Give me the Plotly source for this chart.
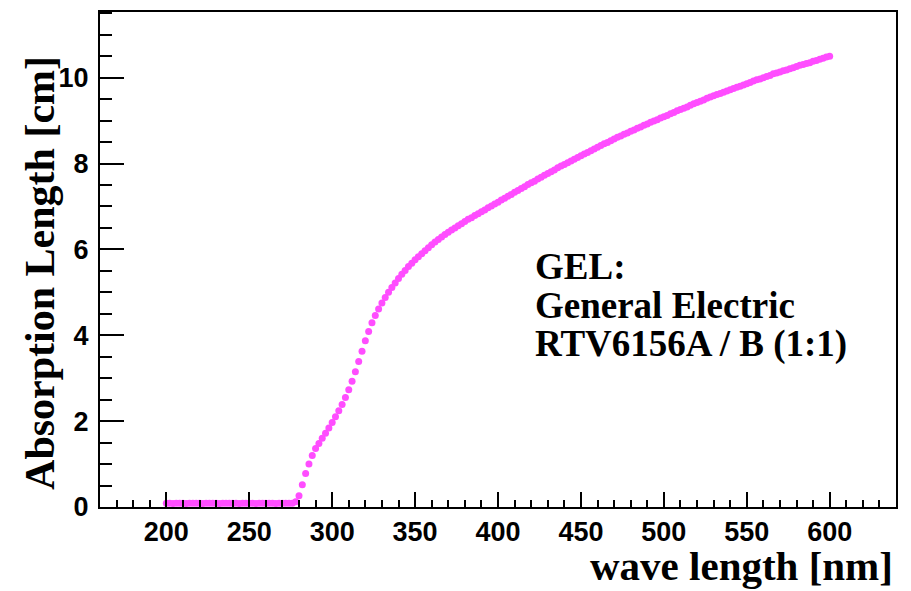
import plotly.graph_objects as go

# wavelength grid [nm]
wavelength = list(range(200, 601, 2))

# absorption length [cm]
flat_part = [0.09, 0.09, 0.08, 0.09, 0.09, 0.09, 0.08, 0.09, 0.09, 0.09,
             0.09, 0.08, 0.09, 0.09, 0.09, 0.09, 0.08, 0.09, 0.09, 0.09,
             0.09, 0.09, 0.08, 0.09, 0.09, 0.09, 0.09, 0.08, 0.09, 0.09,
             0.09, 0.09, 0.09, 0.08, 0.09, 0.09, 0.09, 0.09, 0.09]  # 200..276
rise_part = [0.12, 0.26, 0.52, 0.78, 1.00, 1.20, 1.36, 1.48, 1.60, 1.72,   # 278..296
             1.84, 1.97, 2.10, 2.24, 2.39, 2.55, 2.73, 2.93, 3.15, 3.39,   # 298..316
             3.63, 3.87, 4.09, 4.29, 4.46, 4.61, 4.75, 4.88, 5.00, 5.11,   # 318..336
             5.22, 5.32, 5.42, 5.51, 5.60, 5.68, 5.76, 5.83, 5.90, 5.97,   # 338..356
             6.04, 6.11, 6.17, 6.23, 6.29, 6.35, 6.40, 6.45, 6.50, 6.55,   # 358..376
             6.60, 6.65, 6.70, 6.74, 6.79, 6.83, 6.88, 6.92, 6.97, 7.01,   # 378..396
             7.06, 7.10, 7.15, 7.19, 7.24, 7.28, 7.33, 7.37, 7.42, 7.46,   # 398..416
             7.51, 7.55, 7.59, 7.64, 7.68, 7.73, 7.77, 7.81, 7.85, 7.90,   # 418..436
             7.94, 7.98, 8.02, 8.06, 8.10, 8.14, 8.18, 8.22, 8.26, 8.30,   # 438..456
             8.34, 8.38, 8.42, 8.46, 8.49, 8.53, 8.57, 8.61, 8.64, 8.68,   # 458..476
             8.71, 8.75, 8.78, 8.82, 8.85, 8.89, 8.92, 8.96, 8.99, 9.02,   # 478..496
             9.06, 9.09, 9.12, 9.16, 9.19, 9.23, 9.26, 9.29, 9.32, 9.36,   # 498..516
             9.39, 9.42, 9.45, 9.48, 9.52, 9.55, 9.58, 9.61, 9.63, 9.66,   # 518..536
             9.69, 9.72, 9.75, 9.78, 9.80, 9.83, 9.86, 9.89, 9.92, 9.95,   # 538..556
             9.97, 10.00, 10.03, 10.05, 10.09, 10.11, 10.13, 10.16, 10.18, 10.21,  # 558..576
             10.23, 10.26, 10.29, 10.31, 10.33, 10.35, 10.38, 10.40, 10.43, 10.45,  # 578..596
             10.48, 10.50]                                                    # 598..600
absorption_length = flat_part + rise_part

x_ticks = [200, 250, 300, 350, 400, 450, 500, 550, 600]
y_ticks = [0, 2, 4, 6, 8, 10]
label_lines = ["GEL:", "General Electric", "RTV6156A / B (1:1)"]

W, H = 911, 591
L, R, T, B = 100, 15, 10, 84
PW, PH = W - L - R, H - T - B


def px_x(p):
    return (p - L) / PW


def px_y(p):
    return (H - B - p) / PH


fig = go.Figure()
fig.add_trace(go.Scatter(
    x=wavelength, y=absorption_length, mode="markers",
    marker=dict(color="rgb(255,77,255)", size=7, line=dict(width=0)),
    showlegend=False, hoverinfo="x+y"))

tickfont = dict(family="Liberation Sans, Arial, sans-serif", size=27,
                color="black", weight="bold")
xtitlefont = dict(family="Liberation Serif, Times New Roman, serif", size=41,
                  color="black", weight="bold")
ytitlefont = dict(family="Liberation Serif, Times New Roman, serif", size=42,
                  color="black", weight="bold")
textfont = dict(family="Liberation Serif, Times New Roman, serif", size=37,
                color="black", weight="bold")

fig.update_xaxes(range=[160, 640], tickmode="array", tickvals=x_ticks,
                 ticktext=[str(v) for v in x_ticks],
                 ticks="inside", ticklen=15, tickwidth=1.5, tickcolor="black",
                 minor=dict(dtick=10, tick0=0, ticks="inside", ticklen=7.5,
                            tickwidth=1.5, tickcolor="black"),
                 showline=True, linecolor="black", linewidth=2, mirror=True,
                 showgrid=False, zeroline=False, tickfont=tickfont,
                 ticklabelstandoff=0)
fig.update_yaxes(range=[0, 11.53], tickmode="array", tickvals=y_ticks,
                 ticktext=[str(v) for v in y_ticks],
                 ticks="inside", ticklen=24, tickwidth=1.5, tickcolor="black",
                 minor=dict(dtick=0.5, tick0=0, ticks="inside", ticklen=12,
                            tickwidth=1.5, tickcolor="black"),
                 showline=True, linecolor="black", linewidth=2, mirror=True,
                 showgrid=False, zeroline=False, tickfont=tickfont,
                 ticklabelstandoff=4)

annotations = [
    dict(text="wave length [nm]", xref="paper", yref="paper",
         x=px_x(895), y=px_y(566), xanchor="right", yanchor="middle",
         showarrow=False, font=xtitlefont),
    dict(text="Absorption Length [cm]", xref="paper", yref="paper",
         x=px_x(40), y=px_y(272), xanchor="center", yanchor="middle",
         textangle=-90, showarrow=False, font=ytitlefont),
]
line_centres = [266, 305, 343]
for txt, yc in zip(label_lines, line_centres):
    annotations.append(dict(text=txt, xref="paper", yref="paper",
                            x=px_x(533), y=px_y(yc), xanchor="left",
                            yanchor="middle", showarrow=False, font=textfont))

fig.update_layout(width=W, height=H, margin=dict(l=L, r=R, t=T, b=B),
                  paper_bgcolor="white", plot_bgcolor="white",
                  annotations=annotations)

fig.write_html("out.html", config={"displayModeBar": False},
               post_script="document.body.style.margin='0';")
